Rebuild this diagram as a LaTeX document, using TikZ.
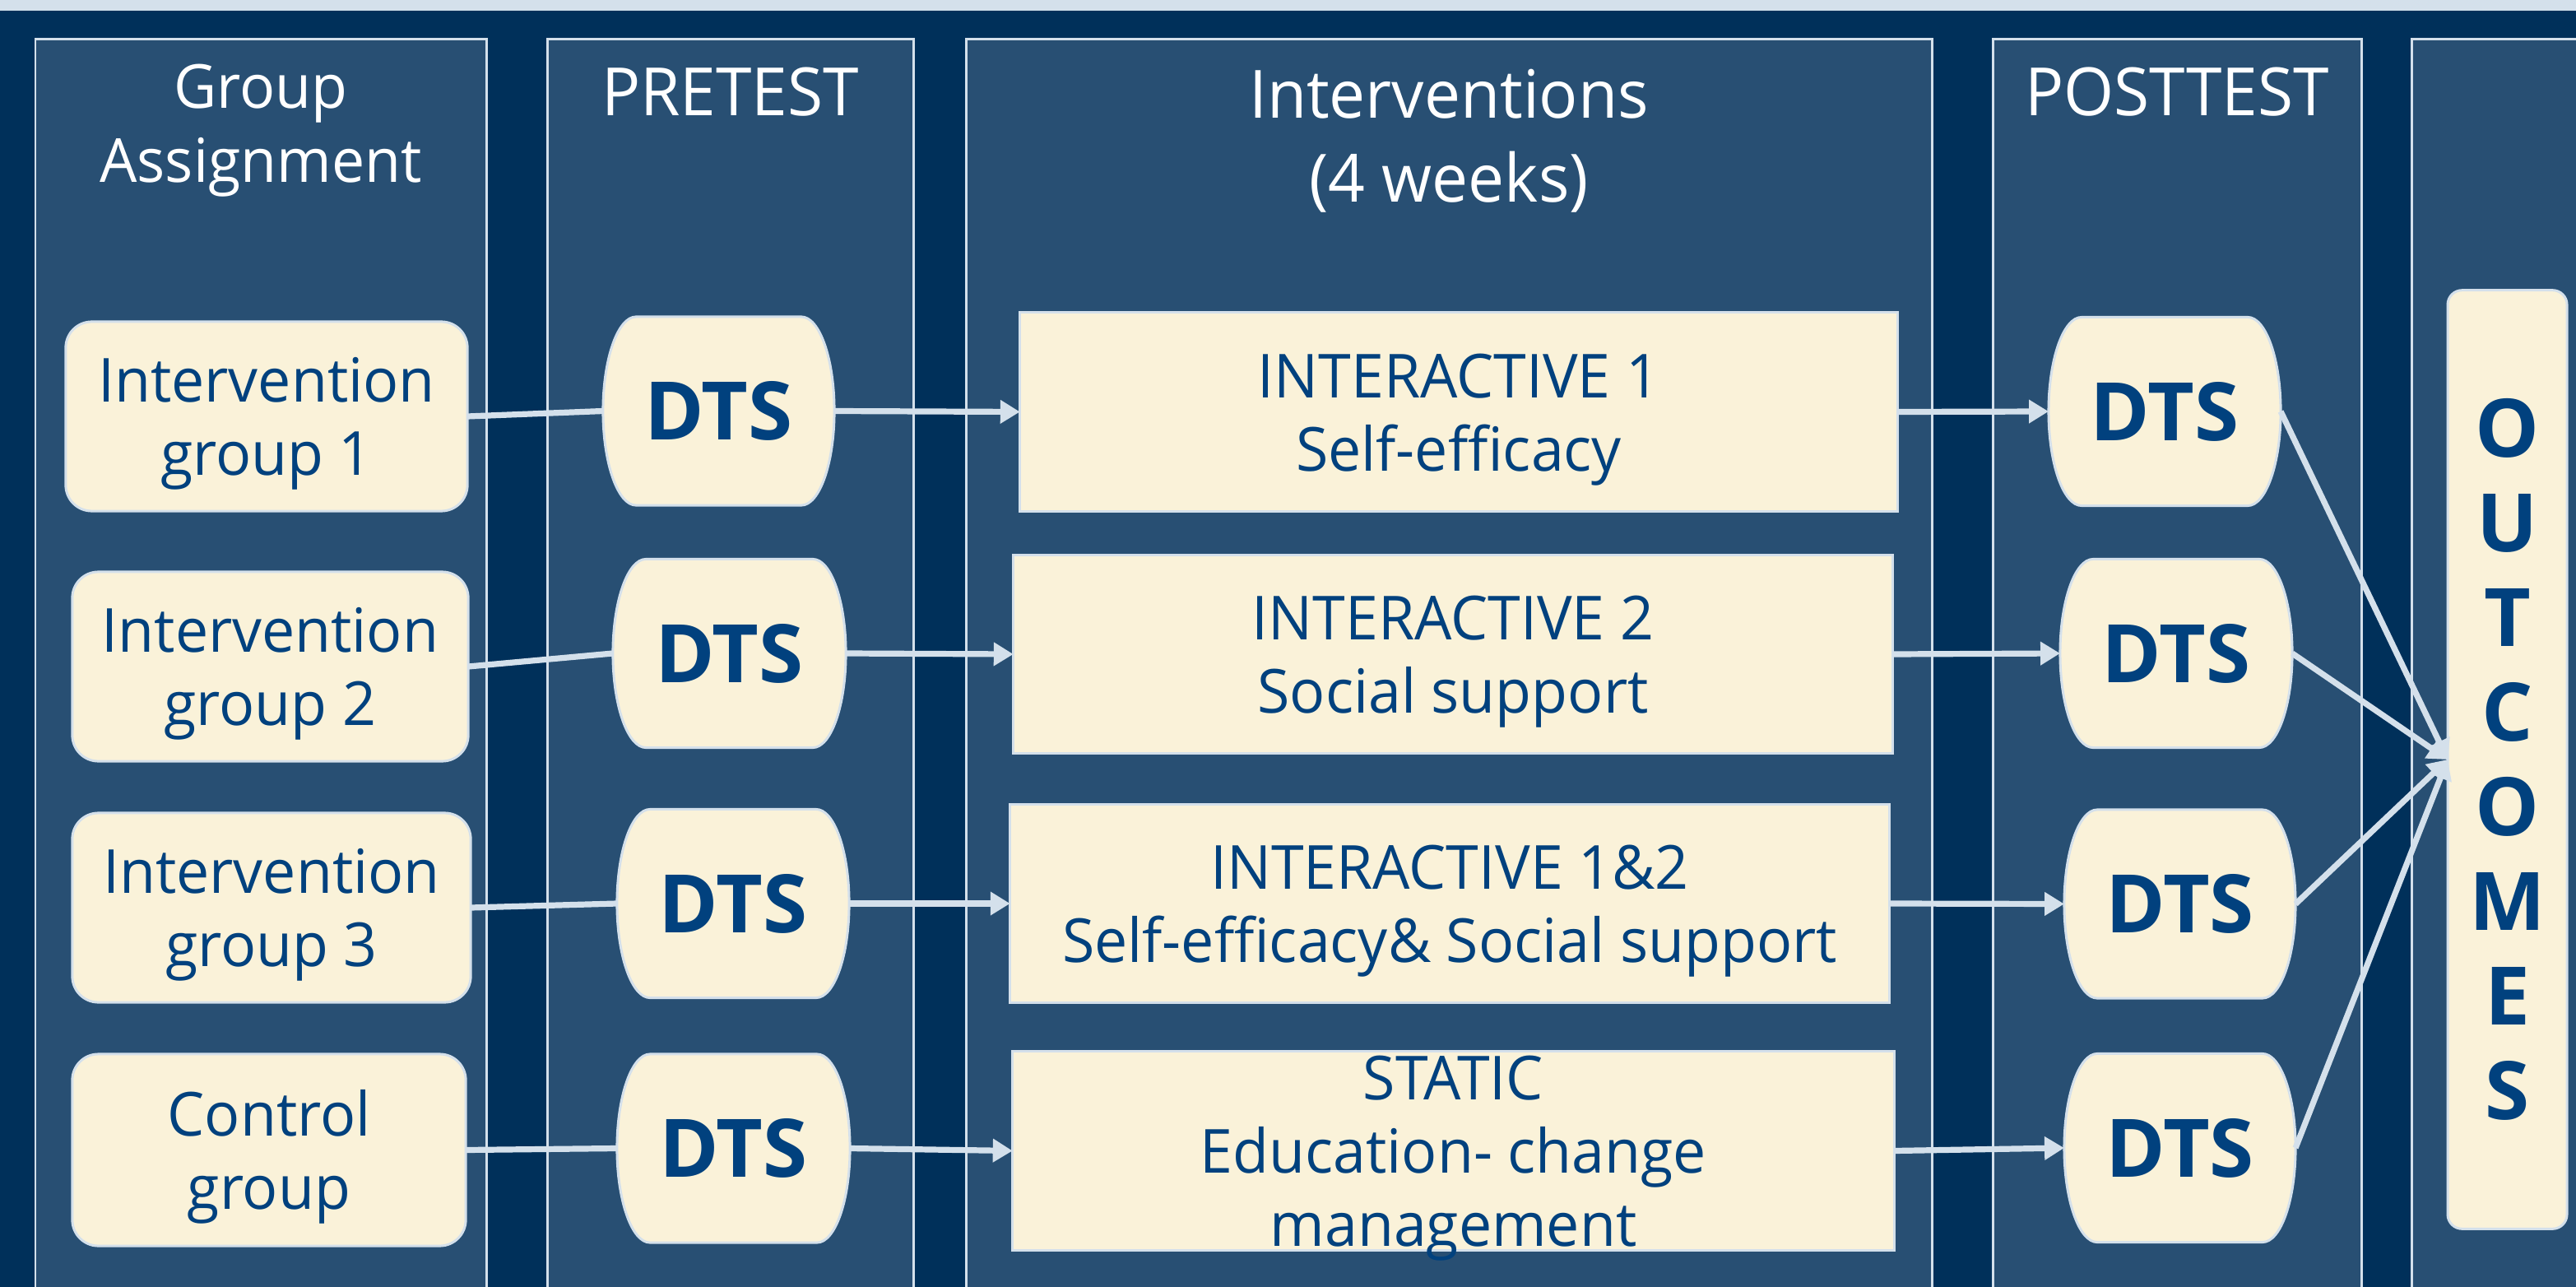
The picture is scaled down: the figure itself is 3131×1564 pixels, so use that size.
\documentclass[tikz,border=0pt]{standalone}
\usepackage{fontspec}
\setmainfont{Open Sans}[FakeStretch=0.97]
\newfontfamily\dtsfont{Open Sans}
\usetikzlibrary{arrows.meta}

\definecolor{navy}{HTML}{00305A}
\definecolor{lane}{HTML}{284F73}
\definecolor{cream}{HTML}{FAF2D9}
\definecolor{ink}{HTML}{01417E}
\definecolor{rule}{HTML}{D4E0EB}

% struts fixing the first-line height and last-line depth of box texts
\newcommand{\firstrow}{\rule{0pt}{21.6pt}}
\newcommand{\lastrow}{\rule[-6pt]{0pt}{6pt}}

% Barrel outline: flat top and bottom, half-elliptic sides
\makeatletter
\def\brlrx{11.4pt}
\pgfdeclareshape{barrel}{%
  \inheritsavedanchors[from=rectangle]%
  \inheritanchorborder[from=rectangle]%
  \inheritanchor[from=rectangle]{center}%
  \inheritanchor[from=rectangle]{base}%
  \inheritanchor[from=rectangle]{mid}%
  \inheritanchor[from=rectangle]{north}%
  \inheritanchor[from=rectangle]{south}%
  \inheritanchor[from=rectangle]{east}%
  \inheritanchor[from=rectangle]{west}%
  \inheritanchor[from=rectangle]{north east}%
  \inheritanchor[from=rectangle]{north west}%
  \inheritanchor[from=rectangle]{south east}%
  \inheritanchor[from=rectangle]{south west}%
  \backgroundpath{%
    \southwest\edef\brlxa{\the\pgf@x}\edef\brlya{\the\pgf@y}%
    \northeast\edef\brlxb{\the\pgf@x}\edef\brlyb{\the\pgf@y}%
    \pgfmathsetmacro\brlry{(\brlyb-\brlya)/2}%
    \pgfpathmoveto{\pgfpoint{\brlxa+\brlrx}{\brlyb}}%
    \pgfpathlineto{\pgfpoint{\brlxb-\brlrx}{\brlyb}}%
    \pgfpatharc{90}{-90}{\brlrx and \brlry pt}%
    \pgfpathlineto{\pgfpoint{\brlxa+\brlrx}{\brlya}}%
    \pgfpatharc{270}{90}{\brlrx and \brlry pt}%
    \pgfpathclose
  }%
}
\makeatother

\begin{document}
\begin{tikzpicture}[x=0.01cm, y=-0.01cm,
  lanebox/.style={fill=lane, draw=rule, line width=0.85pt},
  head/.style={text=white, align=center, inner sep=0, outer sep=0,
    font=\fontsize{23pt}{29pt}\selectfont},
  bodytext/.style={text=ink, align=center, inner sep=0, outer sep=0,
    font=\fontsize{21pt}{25.3pt}\selectfont},
  grp/.style={bodytext, rounded corners=9pt, fill=cream, draw=rule, line width=0.85pt},
  act/.style={bodytext, rectangle, fill=cream, draw=rule, line width=0.85pt},
  acttext/.style={bodytext},
  dts/.style={shape=barrel, fill=cream, draw=rule, line width=0.85pt,
    text=ink, inner sep=0, outer sep=0, minimum height=2.29cm,
    font=\dtsfont\bfseries\fontsize{27.9pt}{30pt}\selectfont},
  outbox/.style={rounded corners=5pt, fill=cream, draw=rule, line width=0.85pt,
    text=ink, align=center, inner sep=0, outer sep=0,
    font=\dtsfont\bfseries\fontsize{27.9pt}{32.7pt}\selectfont},
  link/.style={draw=rule, line width=2.05pt},
  arr/.style={link, -{Triangle[length=6.8pt,width=7.8pt]}}
]
\useasboundingbox (0,0) rectangle (3131,1564);
\clip (0,0) rectangle (3131,1564);

% backdrop and top strip
\fill[navy] (0,0) rectangle (3131,1564);
\fill[rule] (0,0) rectangle (3131,13);

% phase lanes
\draw[lanebox] (43,48) rectangle (591,1600);
\draw[lanebox] (665,48) rectangle (1110,1600);
\draw[lanebox] (1174,48) rectangle (2348,1600);
\draw[lanebox] (2422,48) rectangle (2870,1600);
\draw[lanebox] (2931,48) rectangle (3200,1600);

% lane headings
\node[head, font=\fontsize{21pt}{25.6pt}\selectfont] (hgroup) at (317,159) {Group\\Assignment};
\node[head, anchor=base] (hpre) at (887.5,141) {PRETEST};
\node[head] (hint) at (1761,171) {Interventions\\(4 weeks)};
\node[head, anchor=base] (hpost) at (2646,141) {POSTTEST};

% groups
\node[grp, minimum width=4.88cm, minimum height=2.30cm] (g1) at (324,506) {\firstrow Intervention\\group 1\lastrow};
\node[grp, minimum width=4.81cm, minimum height=2.30cm] (g2) at (328.5,810) {\firstrow Intervention\\group 2\lastrow};
\node[grp, minimum width=4.84cm, minimum height=2.30cm] (g3) at (330,1103) {\firstrow Intervention\\group 3\lastrow};
\node[grp, minimum width=4.78cm, minimum height=2.33cm] (g4) at (327,1397.5) {\firstrow Control\\group\lastrow};

% pretest
\node[dts, minimum width=2.81cm] (p1) at (873.5,499.5) {DTS};
\node[dts, minimum width=2.83cm] (p2) at (886.5,794) {DTS};
\node[dts, minimum width=2.82cm] (p3) at (891,1098) {DTS};
\node[dts, minimum width=2.83cm] (p4) at (891.5,1395.5) {DTS};

% interventions
\node[act, minimum width=10.66cm, minimum height=2.41cm] (i1) at (1773,500.5) {\firstrow INTERACTIVE 1\\Self-efficacy\lastrow};
\node[act, minimum width=10.68cm, minimum height=2.40cm] (i2) at (1766,795) {\firstrow INTERACTIVE 2\\Social support\lastrow};
\node[act, minimum width=10.68cm, minimum height=2.40cm] (i3) at (1762,1098) {\firstrow INTERACTIVE 1\&2\\Self-efficacy\& Social support\lastrow};
\node[act, minimum width=10.71cm, minimum height=2.41cm] (i4) at (1766.5,1398.5) {};
\node[acttext] (i4t) at (i4.center) {\firstrow STATIC\\Education- change\\management\lastrow};

% posttest
\node[dts, minimum width=2.82cm] (q1) at (2631,500) {DTS};
\node[dts, minimum width=2.82cm] (q2) at (2645,794) {DTS};
\node[dts, minimum width=2.81cm] (q3) at (2649.5,1098.5) {DTS};
\node[dts, minimum width=2.81cm] (q4) at (2649.5,1395) {DTS};

% outcomes
\node[outbox, minimum width=1.45cm, minimum height=11.40cm] (out) at (3047.5,923) {O\\U\\T\\C\\O\\M\\E\\S};

% flows
\draw[link] (g1.east) -- (p1.west);
\draw[link] (g2.east) -- (p2.west);
\draw[link] (g3.east) -- (p3.west);
\draw[link] (g4.east) -- (p4.west);

\draw[arr] (p1.east) -- (i1.west);
\draw[arr] (p2.east) -- (i2.west);
\draw[arr] (p3.east) -- (i3.west);
\draw[arr] (p4.east) -- (i4.west);

\draw[arr] (i1.east) -- (q1.west);
\draw[arr] (i2.east) -- (q2.west);
\draw[arr] (i3.east) -- (q3.west);
\draw[arr] (i4.east) -- (q4.west);

\draw[arr] (q1.east) -- (out.west);
\draw[arr] (q2.east) -- (out.west);
\draw[arr] (q3.east) -- (out.west);
\draw[arr] (q4.east) -- (out.west);
\end{tikzpicture}
\end{document}
